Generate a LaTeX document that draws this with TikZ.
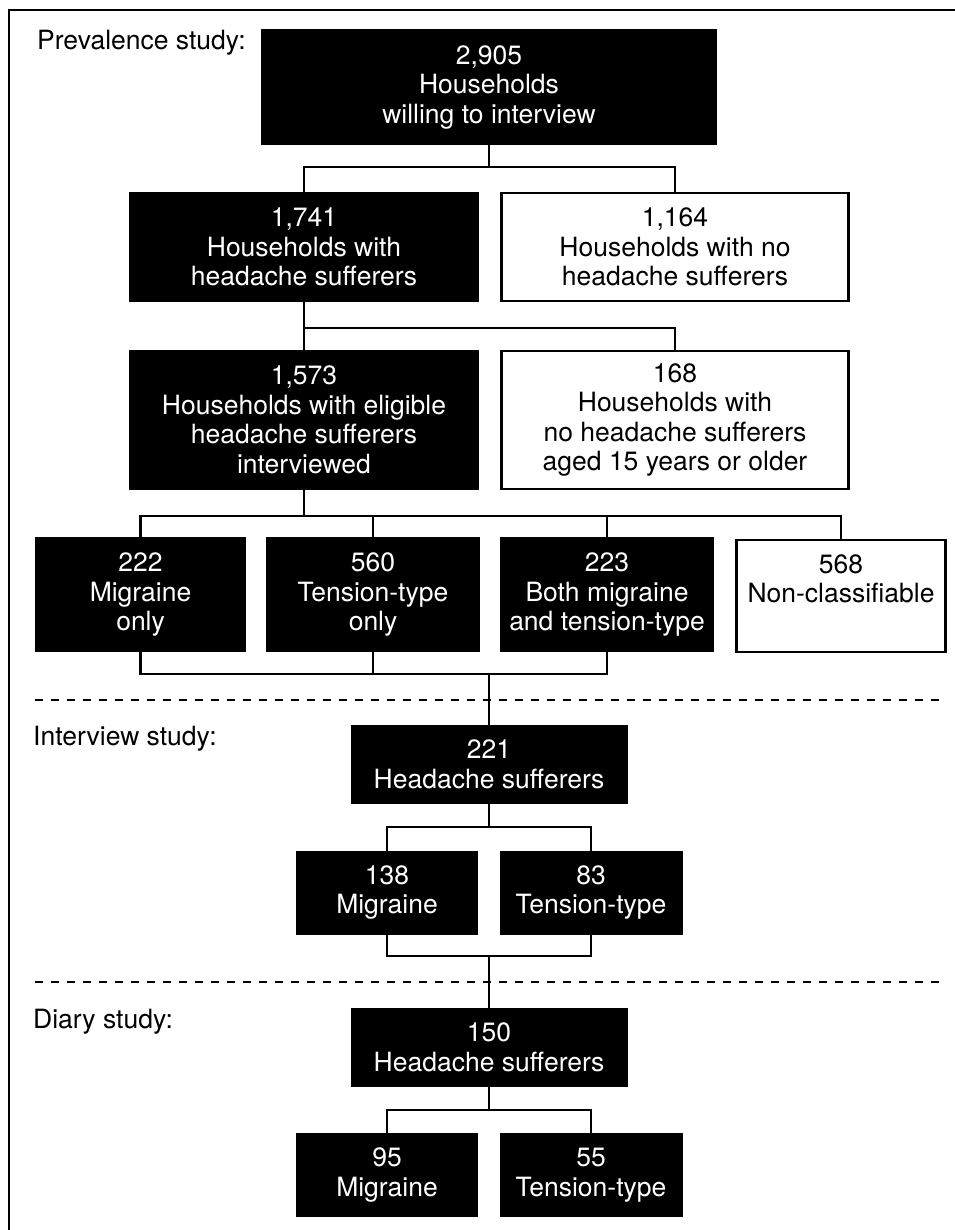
\documentclass[tikz,border=0pt]{standalone}
\usepackage{fontspec}
\setmainfont{TeX Gyre Heros}
\begin{document}
\begin{tikzpicture}[x=1pt,y=-1pt,
  boxfont/.style={font=\fontsize{26.5}{29.5}\selectfont},
  blk/.style={boxfont, fill=black, text=white, align=center, inner sep=0pt, outer sep=0pt},
  wht/.style={boxfont, draw=black, line width=2.4pt, fill=white, text=black, align=center, inner sep=0pt, outer sep=0pt},
  conn/.style={line width=2.3pt, line cap=rect},
  sep/.style={line width=2pt, dash pattern=on 8pt off 8pt},
  lbl/.style={boxfont, anchor=base west, inner sep=0pt}
]
\useasboundingbox (0,0) rectangle (954,1230);
% frame
\draw[line width=2.6pt] (9,1232) -- (9,10) -- (956,10);

% section labels
\node[lbl] (lprev) at (37,50) {Prevalence study:};
\node[lbl] (lint) at (33,745) {Interview study:};
\node[lbl] (ldia) at (33,1028) {Diary study:};

% separators
\draw[sep] (35,700) -- (946,700);
\draw[sep] (35,982) -- (946,982);

% boxes
\node[blk, minimum width=456pt, minimum height=116pt] (b2905) at (489,87) {2,905\\Households\\willing to interview};
\node[blk, minimum width=350pt, minimum height=110pt] (b1741) at (304,247) {1,741\\Households with\\headache sufferers};
\node[wht, minimum width=347pt, minimum height=108pt] (b1164) at (675,247) {1,164\\Households with no\\headache sufferers};
\node[blk, minimum width=350pt, minimum height=140pt] (b1573) at (304,420) {1,573\\Households with eligible\\headache sufferers\\interviewed};
\node[wht, minimum width=347pt, minimum height=138pt] (b168) at (675,420) {168\\Households with\\no headache sufferers\\aged 15 years or older};

\node[blk, minimum width=211pt, minimum height=115pt] (b222) at (140.5,594.5) {222\\Migraine\\only};
\node[blk, minimum width=214pt, minimum height=115pt] (b560) at (373,594.5) {560\\Tension-type\\only};
\node[blk, minimum width=214pt, minimum height=115pt] (b223) at (607,594.5) {223\\Both migraine\\and tension-type};
\node[wht, minimum width=209pt, minimum height=112pt] (b568) at (841,596) {568\\Non-classifiable\\\phantom{only}};

\node[blk, minimum width=277pt, minimum height=79pt] (b221) at (489,764.5) {221\\Headache sufferers};
\node[blk, minimum width=182pt, minimum height=84pt] (b138) at (387,892.5) {138\\Migraine};
\node[blk, minimum width=183pt, minimum height=84pt] (b83) at (591,892.5) {83\\Tension-type};

\node[blk, minimum width=277pt, minimum height=79pt] (b150) at (489,1047.5) {150\\Headache sufferers};
\node[blk, minimum width=182pt, minimum height=84pt] (b95) at (387,1175) {95\\Migraine};
\node[blk, minimum width=183pt, minimum height=84pt] (b55) at (591,1175) {55\\Tension-type};

% connectors
\draw[conn] (b2905.south) -- ++(0,22) coordinate (j1);
\draw[conn] (b1741.north) |- (j1) -| (b1164.north);

\draw[conn] (b1741.south) -- ++(0,26) coordinate (j2);
\draw[conn] (b1573.north) -- (j2) -| (b168.north);

\draw[conn] (b1573.south) -- ++(0,26) coordinate (j3);
\draw[conn] (b222.north) |- (j3) -| (b568.north);
\draw[conn] (b560.north) -- (b560.north |- j3);
\draw[conn] (b223.north) -- (b223.north |- j3);

\coordinate (j4) at (489,674);
\draw[conn] (b222.south) |- (j4) -| (b223.south);
\draw[conn] (b560.south) -- (b560.south |- j4);
\draw[conn] (j4) -- (b221.north);

\draw[conn] (b221.south) -- ++(0,23) coordinate (j5);
\draw[conn] (b138.north) |- (j5) -| (b83.north);
\coordinate (j6) at (489,956);
\draw[conn] (b138.south) |- (j6) -| (b83.south);
\draw[conn] (j6) -- (b150.north);

\draw[conn] (b150.south) -- ++(0,23) coordinate (j7);
\draw[conn] (b95.north) |- (j7) -| (b55.north);
\end{tikzpicture}
\end{document}
